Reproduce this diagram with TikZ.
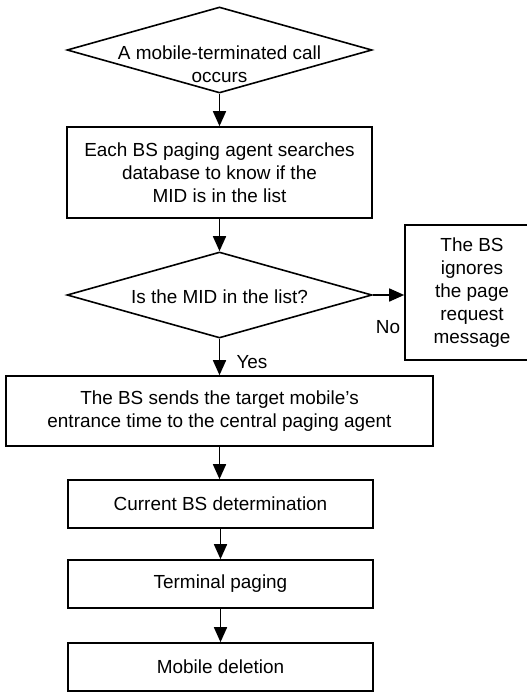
\documentclass[tikz,border=0pt]{standalone}
\usepackage{fontspec}
\setmainfont{Liberation Sans}
\usetikzlibrary{shapes.geometric,arrows.meta}
\begin{document}
\begin{tikzpicture}[x=1bp,y=-1bp,
  txt/.style={font=\fontsize{19}{23}\selectfont, align=center},
  stepbox/.style={draw, line width=1.6bp, inner sep=0pt, txt},
  dia/.style={draw, diamond, line width=1.6bp, inner sep=0pt, minimum width=305bp, minimum height=86bp},
  arr/.style={line width=1.6bp, -{Triangle[width=13bp,length=15bp]}},
  lbl/.style={font=\fontsize{19}{23}\selectfont}
]
\useasboundingbox (0,0) rectangle (527,693);
\node[dia, label={[txt, yshift=-14bp]center:A mobile-terminated call\\occurs}] (d1) at (219.5,50) {};
\node[stepbox, minimum width=305bp, minimum height=91bp] (b1) at (219.5,172.5)
  {Each BS paging agent searches\\database to know if the\\MID is in the list};
\node[dia, label={[txt, yshift=-2bp]center:Is the MID in the list?}] (d2) at (219.5,295) {};
\node[stepbox, minimum width=134bp, minimum height=135bp] (r) at (472,292.5)
  {The BS\\ignores\\the page\\request\\message};
\node[stepbox, minimum width=427bp, minimum height=70bp] (b2) at (219.5,411)
  {\raisebox{-4bp}{\shortstack{The BS sends the target mobile's\\[2bp]entrance time to the central paging agent}}};
\node[stepbox, minimum width=305bp, minimum height=48bp] (b3) at (220.5,504) {Current BS determination};
\node[stepbox, minimum width=305bp, minimum height=48bp] (b4) at (220.5,584) {Terminal paging};
\node[stepbox, minimum width=305bp, minimum height=48bp] (b5) at (220.5,667) {Mobile deletion};

\draw[arr] (d1.south) -- (d1.south |- b1.north);
\draw[arr] (b1.south) -- (b1.south |- d2.north);
\draw[arr] (d2.east) -- (d2.east -| r.west);
\draw[arr] (d2.south) -- (d2.south |- b2.north);
\draw[arr] (b2.south) -- (b2.south |- b3.north);
\draw[arr] (b3.south) -- (b3.south |- b4.north);
\draw[arr] (b4.south) -- (b4.south |- b5.north);

\node[lbl] (no) at (388,327) {No};
\node[lbl] (yes) at (252,362) {Yes};
\end{tikzpicture}
\end{document}
